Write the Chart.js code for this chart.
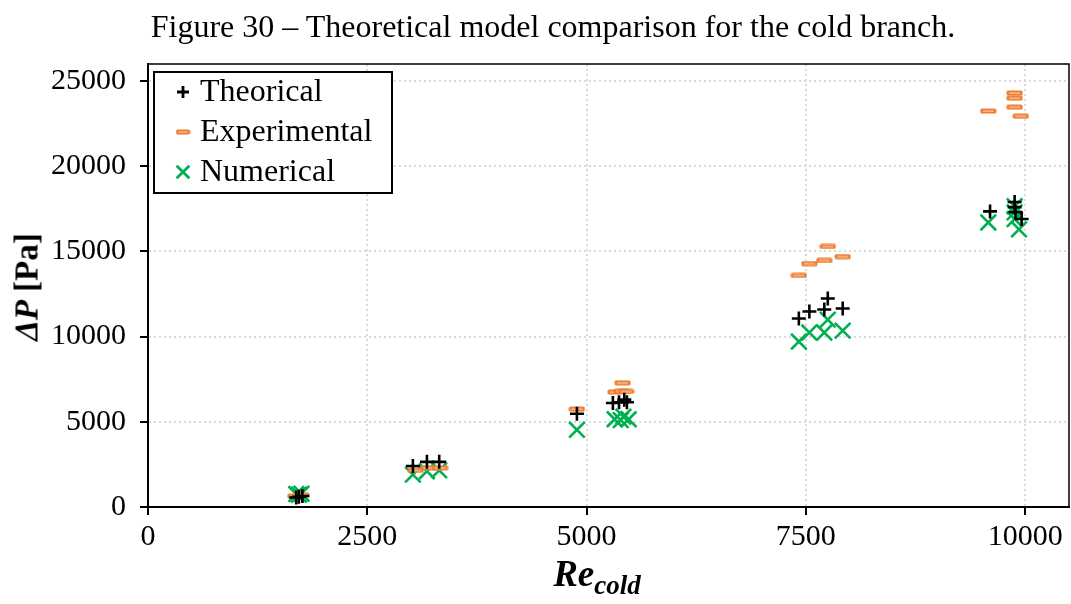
<!DOCTYPE html>
<html>
<head>
<meta charset="utf-8">
<script src="https://cdn.jsdelivr.net/npm/chart.js@4.4.1/dist/chart.umd.min.js"></script>
<style>
  html, body { margin: 0; background: #fff; overflow: hidden; }
  #wrap { position: relative; width: 1071px; height: 604px; overflow: hidden; font-family: 'Liberation Serif', 'Times New Roman', serif; color: #000; }
  #chart { position: absolute; left: 0; top: 0; }
  .title { position: absolute; top: 8px; left: 0; width: 1106px; text-align: center; font-size: 32px; white-space: nowrap; }
  .ytitle { position: absolute; left: 27px; top: 287px; transform: translate(-50%, -50%) rotate(-90deg); font-size: 33px; font-weight: bold; white-space: nowrap; }
  .ytitle i { font-style: italic; }
  .xtitle { position: absolute; left: 597px; top: 555px; transform: translateX(-50%); font-size: 37px; font-weight: bold; font-style: italic; white-space: nowrap; line-height: 1; }
  .xtitle sub { font-size: 27px; }
</style>
</head>
<body>
<div id="wrap">
  <canvas id="chart" width="1071" height="604"></canvas>
  <div class="title">Figure 30 – Theoretical model comparison for the cold branch.</div>
  <div class="ytitle"><i>ΔP</i> [Pa]</div>
  <div class="xtitle">Re<sub>cold</sub></div>
</div>
<script>
// values
const xTicks = [0, 2500, 5000, 7500, 10000];
const yTicks = [0, 5000, 10000, 15000, 20000, 25000];

const theoRe = [1690, 1720, 1760, 3020, 3180, 3320, 4890, 5300, 5370, 5430, 5460, 7420, 7540, 7710, 7750, 7920, 9600, 9880, 9880, 9890, 9960];
const theoDp = [560, 600, 650, 2410, 2650, 2650, 5470, 6100, 6150, 6300, 6150, 11060, 11470, 11590, 12240, 11650, 17350, 17900, 17600, 17300, 16900];

const expRe = [1680, 1750, 3050, 3200, 3330, 4890, 5330, 5400, 5450, 5410, 7420, 7540, 7710, 7750, 7920, 9580, 9880, 9880, 9880, 9950];
const expDp = [640, 700, 2150, 2300, 2300, 5750, 6750, 6780, 6780, 7290, 13590, 14290, 14470, 15290, 14700, 23240, 24300, 24000, 23470, 22940];

const numRe = [1690, 1720, 1750, 3020, 3180, 3320, 4890, 5320, 5390, 5420, 5480, 7420, 7540, 7710, 7750, 7920, 9580, 9880, 9880, 9880, 9930];
const numDp = [760, 720, 780, 1900, 2100, 2150, 4530, 5150, 5100, 5300, 5150, 9710, 10240, 10240, 11000, 10350, 16700, 17650, 17290, 16900, 16300];

const toPoints = (xs, ys) => xs.map((x, i) => ({ x: x, y: ys[i] }));

// Excel-like dash marker: orange outline with a pale core
function dashMarker(w, h) {
    const c = document.createElement('canvas');
    c.width = w;
    c.height = h;
    const g = c.getContext('2d');
    g.fillStyle = '#ED7D31';
    g.beginPath();
    g.roundRect(0.5, 0.5, w - 1, h - 1, 1.5);
    g.fill();
    g.fillStyle = '#F8CBAD';
    g.fillRect(3, Math.floor(h / 2) - 0.5, w - 6, 1.2);
    return c;
}
const dashBig = dashMarker(17, 6);
const dashSmall = dashMarker(15, 6);

const series = [
    { label: 'Theorical', data: toPoints(theoRe, theoDp), pointStyle: 'cross', radius: 7, width: 2.6, color: '#000000', legendStyle: 'cross', legendRadius: 6 },
    { label: 'Experimental', data: toPoints(expRe, expDp), pointStyle: dashBig, radius: 8, width: 0, color: '#ED7D31', legendStyle: dashSmall, legendRadius: 7 },
    { label: 'Numerical', data: toPoints(numRe, numDp), pointStyle: 'crossRot', radius: 11, width: 2.6, color: '#00B050', legendStyle: 'crossRot', legendRadius: 9 }
];

// border round the plot area (top and right sides)
const frame = {
    id: 'frame',
    afterDraw(chart) {
        const { ctx, chartArea: a } = chart;
        ctx.save();
        ctx.strokeStyle = '#000';
        ctx.lineWidth = 1.5;
        ctx.strokeRect(a.left, a.top, a.right - a.left, a.bottom - a.top);
        ctx.restore();
    }
};

// legend drawn inside the plot, top left
const legendBox = {
    id: 'legendBox',
    afterDraw(chart) {
        const { ctx, chartArea: a } = chart;
        const x0 = a.left + 6, y0 = a.top + 8, w = 238, h = 121;
        ctx.save();
        ctx.fillStyle = '#fff';
        ctx.fillRect(x0, y0, w, h);
        ctx.strokeStyle = '#000';
        ctx.lineWidth = 2;
        ctx.strokeRect(x0, y0, w, h);
        series.forEach((s, i) => {
            const cy = y0 + 20 + i * 40;
            ctx.strokeStyle = s.color;
            ctx.fillStyle = s.color;
            ctx.lineWidth = 2.8;
            Chart.helpers.drawPoint(ctx, { pointStyle: s.legendStyle, radius: s.legendRadius, borderWidth: 2.8, rotation: 0 }, x0 + 29, cy);
            ctx.fillStyle = '#000';
            ctx.font = '32px "Liberation Serif"';
            ctx.textBaseline = 'middle';
            ctx.textAlign = 'left';
            ctx.fillText(s.label, x0 + 46, cy + 1);
        });
        ctx.restore();
    }
};

const tickFont = { family: 'Liberation Serif', size: 30 };
const plainNumber = v => String(v);

const ctx = document.getElementById('chart').getContext('2d');
new Chart(ctx, {
    type: 'scatter',
    data: {
        datasets: series.map(s => ({
            label: s.label,
            data: s.data,
            pointStyle: s.pointStyle,
            pointRadius: s.radius,
            pointHoverRadius: s.radius,
            pointBorderWidth: s.width,
            borderColor: s.color,
            backgroundColor: s.color
        }))
    },
    options: {
        responsive: false,
        animation: false,
        layout: { autoPadding: false, padding: { top: 64, right: 2, left: 0, bottom: 0 } },
        plugins: {
            legend: { display: false },
            tooltip: { enabled: false }
        },
        scales: {
            x: {
                type: 'linear',
                min: 0,
                max: 10500,
                afterBuildTicks: s => { s.ticks = xTicks.map(v => ({ value: v })); },
                afterFit: s => { s.height = 97; s.paddingLeft = 0; s.paddingRight = 0; },
                ticks: { font: tickFont, color: '#000', padding: 4, maxRotation: 0, callback: plainNumber },
                grid: { color: '#D9D9D9', lineWidth: 2, tickColor: '#000', tickLength: 8, tickWidth: 2 },
                border: { display: true, color: '#000', width: 2, dash: [2, 3] }
            },
            y: {
                type: 'linear',
                min: 0,
                max: 26000,
                afterBuildTicks: s => { s.ticks = yTicks.map(v => ({ value: v })); },
                afterFit: s => { s.width = 148; s.paddingTop = 0; s.paddingBottom = 0; },
                ticks: { font: tickFont, color: '#000', padding: 14, callback: plainNumber },
                grid: { color: '#D9D9D9', lineWidth: 2, tickColor: '#000', tickLength: 8, tickWidth: 2 },
                border: { display: true, color: '#000', width: 2, dash: [2, 3] }
            }
        }
    },
    plugins: [frame, legendBox]
});
</script>
</body>
</html>
